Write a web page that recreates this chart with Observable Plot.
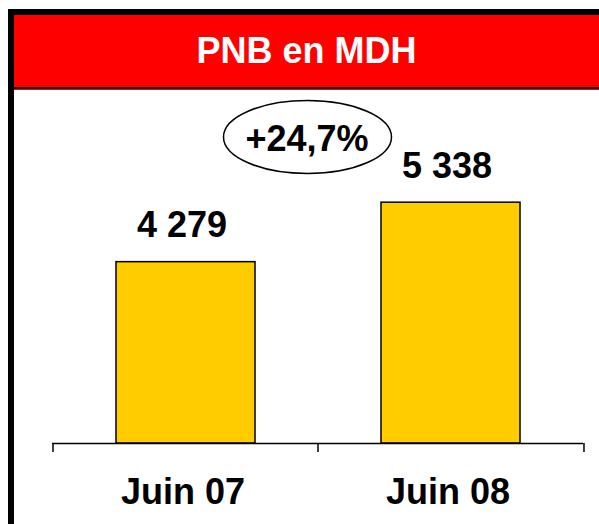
<!DOCTYPE html>
<html>
<head>
<meta charset="utf-8">
<script src="https://cdn.jsdelivr.net/npm/d3@7"></script>
<script src="https://cdn.jsdelivr.net/npm/@observablehq/plot@0.6"></script>
<style>
  html, body { margin: 0; padding: 0; background: #fff; overflow: hidden; }
  body { width: 599px; height: 524px; position: relative; font-family: Arial, "Liberation Sans", sans-serif; }
  #chart { position: absolute; left: 0; top: 90px; width: 599px; height: 434px; }
  #frame { position: absolute; left: 8px; top: 9px; width: 700px; height: 700px;
           border-left: 6px solid #000; border-top: 6px solid #000; box-sizing: border-box; pointer-events: none; }
  #header { position: absolute; left: 14px; top: 15px; width: 585px; height: 72px; background: #ff0000;
            border-bottom: 2px solid #000; box-shadow: 0 1px 0 0 #ff0000;
            color: #fff; font-weight: bold; font-size: 36px; line-height: 72px; text-align: center; }
</style>
</head>
<body>
<div id="chart"></div>
<div id="header">PNB en MDH</div>
<div id="frame"></div>
<script>
const categories = ["Juin 07", "Juin 08"];
const values = [4279, 5338];
const title = "PNB en MDH";

const data = categories.map((label, i) => ({label, value: values[i]}));
const growth = (values[1] / values[0] - 1) * 100;
const growthLabel = "+" + d3.format(".1f")(growth).replace(".", ",") + "%";
const fmt = v => d3.format(",")(v).replace(/,/g, "\u00a0");

document.getElementById("header").textContent = title;

const W = 599, H = 434, mL = 52, mR = 16, mT = 75, mB = 81;
const pIn = 0.4755, pOut = 0.236;
const step = (W - mL - mR) / (categories.length - pIn + 2 * pOut);
const yBase = 1050;

const ellipse = {
  draw(ctx) {
    const rx = 84, ry = 36.5, k = 0.5522847498;
    ctx.moveTo(rx, 0);
    ctx.bezierCurveTo(rx, k * ry, k * rx, ry, 0, ry);
    ctx.bezierCurveTo(-k * rx, ry, -rx, k * ry, -rx, 0);
    ctx.bezierCurveTo(-rx, -k * ry, -k * rx, -ry, 0, -ry);
    ctx.bezierCurveTo(k * rx, -ry, rx, -k * ry, rx, 0);
    ctx.closePath();
  }
};

const font = "Arial, 'Liberation Sans', sans-serif";

const chart = Plot.plot({
  width: W, height: H,
  marginLeft: mL, marginRight: mR, marginTop: mT, marginBottom: mB,
  style: {background: "transparent", fontFamily: font, color: "#000", overflow: "visible"},
  x: {domain: categories, paddingInner: pIn, paddingOuter: pOut, label: null, axis: null},
  y: {domain: [yBase, 6000], clamp: true, axis: null},
  marks: [
    Plot.barY(data, {x: "label", y: "value", fill: "#ffcc00", stroke: "#000", strokeWidth: 1.5}),
    Plot.ruleY([yBase], {stroke: "#000", strokeWidth: 1.5}),
    Plot.axisX(categories, {tickSize: 9, tickFormat: () => "", dx: -step / 2, stroke: "#000", strokeWidth: 1.5, label: null}),
    Plot.axisX([categories[categories.length - 1]], {tickSize: 9, tickFormat: () => "", dx: step / 2, stroke: "#000", strokeWidth: 1.5, label: null}),
    Plot.axisX(categories, {tickSize: 0, tickPadding: 35, fontSize: 36, fontWeight: "bold", fill: "#000", label: null, dx: -3}),
    Plot.text(data, {x: "label", y: "value", text: d => fmt(d.value), dy: -25, lineAnchor: "bottom",
      fontSize: 36, fontWeight: "bold", fill: "#000", dx: -4}),
    Plot.dot([growthLabel], {frameAnchor: "top", dx: -10.5, dy: -28.5, r: 1, symbol: ellipse,
      stroke: "#000", strokeWidth: 1.5, fill: "none"}),
    Plot.text([growthLabel], {frameAnchor: "top", text: d => d, dx: -11, dy: -26.5, lineAnchor: "middle",
      fontSize: 36, fontWeight: "bold", fill: "#000"})
  ]
});
document.getElementById("chart").appendChild(chart);
</script>
</body>
</html>
